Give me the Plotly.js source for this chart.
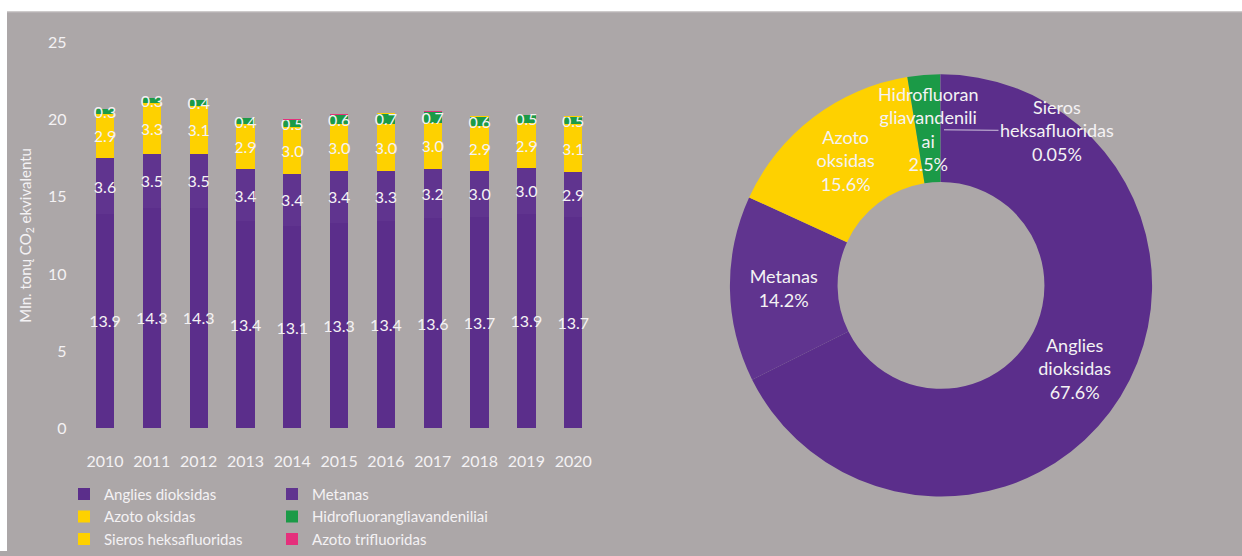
<!DOCTYPE html>
<html>
<head>
<meta charset="utf-8">
<script src="https://cdn.plot.ly/plotly-3.0.1.min.js"></script>
<style>
html,body{margin:0;padding:0;background:#ffffff;}
#chart{width:1242px;height:556px;}
</style>
</head>
<body>
<div id="chart"></div>
<script>
// ---- data ----
const years = ['2010','2011','2012','2013','2014','2015','2016','2017','2018','2019','2020'];
const co2   = [13.9,14.3,14.3,13.4,13.1,13.3,13.4,13.6,13.7,13.9,13.7];
const ch4   = [3.6,3.5,3.5,3.4,3.4,3.4,3.3,3.2,3.0,3.0,2.9];
const n2o   = [2.9,3.3,3.1,2.9,3.0,3.0,3.0,3.0,2.9,2.9,3.1];
const hfc   = [0.3,0.3,0.4,0.4,0.5,0.6,0.7,0.7,0.6,0.5,0.5];
const sf6   = [0.01,0.01,0.01,0.01,0.01,0.01,0.01,0.01,0.01,0.01,0.01];
const nf3   = [0,0,0,0,0.02,0.05,0.05,0.03,0.05,0.02,0.02];

const seriesNames = ['Anglies dioksidas','Metanas','Azoto oksidas','Hidrofluorangliavandeniliai','Sieros heksafluoridas','Azoto trifluoridas'];

const pieLabels = ['Anglies dioksidas','Metanas','Azoto oksidas','Hidrofluorangliavandeniliai','Sieros heksafluoridas'];
const pieText   = ['Anglies<br>dioksidas<br>67.6%','Metanas<br>14.2%','Azoto<br>oksidas<br>15.6%',' ',' '];
const pieValues = [67.6,14.2,15.6,2.5,0.05];
const hfcLabel  = 'Hidrofluoran<br>gliavandenili<br>ai<br>2.5%';
const sf6Label  = 'Sieros<br>heksafluoridas<br>0.05%';

// ---- style ----
const PURPLE = '#5b2e8b', PURPLE2 = '#60348f', YELLOW = '#fed100', GREEN = '#1b9a47', PINK = '#e5307c';
const BG = '#aca7a8', TXT = '#f4f2f4';
const FONT = 'Lato, "Open Sans", sans-serif';
const W = 1242, H = 556;
const px = v => v / W;
const py = v => (H - v) / H;

function barTrace(name, y, color, showText, legendId){
  const t = {
    type:'bar', name:name, x:years, y:y,
    marker:{color:color, line:{width:0}},
    textposition: showText ? 'inside' : 'none',
    textangle:0,
    insidetextanchor:'middle',
    constraintext:'none',
    textfont:{color:TXT, size:16, family:FONT},
    hoverinfo:'name+y',
    legend: legendId,
    xaxis:'x', yaxis:'y'
  };
  if (showText) { t.text = y.map(v => v.toFixed(1)); t.texttemplate = '%{text}'; }
  return t;
}

const traces = [
  barTrace(seriesNames[0], co2, PURPLE, true, 'legend'),
  barTrace(seriesNames[1], ch4, PURPLE2, true, 'legend2'),
  barTrace(seriesNames[2], n2o, YELLOW, true, 'legend'),
  barTrace(seriesNames[3], hfc, GREEN, true, 'legend2'),
  barTrace(seriesNames[4], sf6, YELLOW, false, 'legend'),
  barTrace(seriesNames[5], nf3, PINK, false, 'legend2'),
  {
    type:'pie', labels:pieLabels, values:pieValues, text:pieText,
    texttemplate:'%{text}', textinfo:'text',
    textposition:['inside','inside','inside','none','none'],
    insidetextorientation:'horizontal',
    textfont:{color:TXT, size:18, family:FONT},
    hole:0.49, sort:false, direction:'clockwise', rotation:0,
    marker:{colors:[PURPLE, PURPLE2, YELLOW, GREEN, '#6a3b97'], line:{width:0}},
    showlegend:false,
    domain:{x:[px(728), px(1154)], y:[py(501), py(75)]}
  }
];

const layout = {
  width:W, height:H,
  margin:{l:0,r:0,t:0,b:0},
  paper_bgcolor:BG, plot_bgcolor:'rgba(0,0,0,0)',
  font:{family:FONT, color:TXT, size:15},
  barmode:'stack', bargap:0.61,
  showlegend:true,
  uniformtext:{mode:'show', minsize:13},
  xaxis:{
    domain:[px(81.6), px(596.6)], type:'category',
    showgrid:false, zeroline:false, showline:false,
    ticks:'', tickfont:{size:16, color:TXT, family:FONT},
    ticklabelstandoff:22, fixedrange:true
  },
  yaxis:{
    domain:[py(432), py(43)], range:[0,25], dtick:5,
    showgrid:false, zeroline:false, showline:false,
    ticks:'', tickfont:{size:16, color:TXT, family:FONT},
    ticklabelstandoff:14,
    title:{text:'Mln. tonų CO<sub>2</sub> ekvivalentu', font:{size:15, color:TXT, family:FONT}, standoff:12},
    fixedrange:true
  },
  legend:{
    x:px(64), y:py(482), xanchor:'left', yanchor:'top',
    orientation:'v', bgcolor:'rgba(0,0,0,0)',
    font:{size:15, color:TXT, family:FONT},
    traceorder:'normal', itemwidth:30, tracegroupgap:0
  },
  legend2:{
    x:px(272), y:py(482), xanchor:'left', yanchor:'top',
    orientation:'v', bgcolor:'rgba(0,0,0,0)',
    font:{size:15, color:TXT, family:FONT},
    traceorder:'normal', itemwidth:30, tracegroupgap:0
  },
  annotations:[
    {
      xref:'paper', yref:'paper',
      x:px(944), y:py(131), text:sf6Label, showarrow:true,
      ax:113, ay:1, axref:'pixel', ayref:'pixel',
      arrowhead:0, arrowwidth:1, arrowcolor:'#cfc3dd',
      font:{size:18, color:TXT, family:FONT}, align:'center'
    },
    {
      xref:'paper', yref:'paper',
      x:px(928), y:py(130), text:hfcLabel, showarrow:false,
      xanchor:'center', yanchor:'middle',
      font:{size:18, color:TXT, family:FONT}, align:'center'
    }
  ],
  shapes:[
    {type:'rect', xref:'paper', yref:'paper', x0:0, x1:px(7), y0:0, y1:1, fillcolor:'#ffffff', line:{width:0}, layer:'above'},
    {type:'rect', xref:'paper', yref:'paper', x0:0, x1:1, y0:py(11.5), y1:1, fillcolor:'#ffffff', line:{width:0}, layer:'above'},
    {type:'line', xref:'paper', yref:'paper', x0:px(7), x1:1, y0:py(12), y1:py(12), line:{width:1, color:'#c9c5c6'}, layer:'above'}
  ]
};

Plotly.newPlot('chart', traces, layout, {displayModeBar:false, staticPlot:true});
</script>
</body>
</html>
